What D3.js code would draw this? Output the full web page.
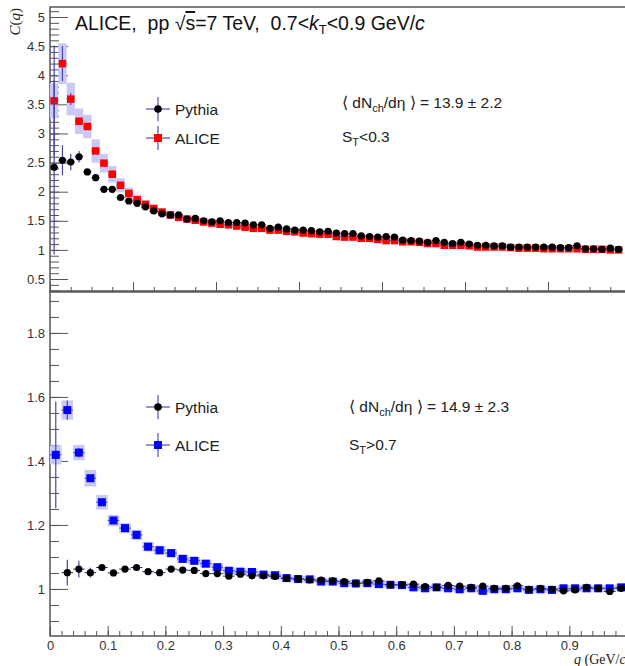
<!DOCTYPE html>
<html>
<head>
<meta charset="utf-8">
<script src="https://cdn.jsdelivr.net/npm/d3@7"></script>
<style>
  html, body { margin: 0; padding: 0; background: #fff; }
  svg { display: block; }
  .tick text { font-family: "Liberation Sans", Arial, sans-serif; font-size: 13px; fill: #333; }
  .tick line, .domain { stroke: #555; }
</style>
</head>
<body>
<svg id="chart" width="625" height="666"></svg>
<script>
// ---------------- DATA ----------------
// Top panel (S_T < 0.3): bin centres in q (GeV/c)
const qTop = [0.01,0.03,0.05,0.07,0.09,0.11,0.13,0.15,0.17,0.19,0.21,0.23,0.25,0.27,0.29,0.31,0.33,0.35,0.37,0.39,
  0.41,0.43,0.45,0.47,0.49,0.51,0.53,0.55,0.57,0.59,0.61,0.63,0.65,0.67,0.69,0.71,0.73,0.75,0.77,0.79,
  0.81,0.83,0.85,0.87,0.89,0.91,0.93,0.95,0.97,0.99,1.01,1.03,1.05,1.07,1.09,1.11,1.13,1.15,1.17,1.19,
  1.21,1.23,1.25,1.27,1.29,1.31,1.33,1.35,1.37];
const pythiaTop = [2.42,2.54,2.51,2.60,2.34,2.24,2.04,2.04,1.90,1.84,1.80,1.74,1.67,1.62,1.60,1.60,1.53,1.54,1.50,1.48,
  1.50,1.47,1.47,1.46,1.43,1.43,1.37,1.39,1.36,1.34,1.34,1.33,1.31,1.32,1.29,1.28,1.28,1.24,1.23,1.22,
  1.23,1.22,1.17,1.16,1.15,1.13,1.16,1.13,1.11,1.13,1.10,1.08,1.08,1.07,1.07,1.05,1.05,1.05,1.05,1.05,
  1.05,1.04,1.04,1.07,1.02,1.02,1.01,1.03,1.01];
const pythiaTopErr = [1.50,0.26,0.14,0.10,0.04,0.03,0.02,0.02,0.02,0.02,0.02,0.02,0.02,0.02,0.02,0.02,0.02,0.02,0.02,0.02,
  0.02,0.02,0.02,0.02,0.02,0.02,0.02,0.02,0.02,0.02,0.02,0.02,0.02,0.02,0.02,0.02,0.02,0.02,0.02,0.02,
  0.02,0.02,0.02,0.02,0.02,0.02,0.02,0.02,0.02,0.02,0.02,0.02,0.02,0.02,0.02,0.02,0.02,0.02,0.02,0.02,
  0.02,0.02,0.02,0.02,0.02,0.02,0.02,0.02,0.02];
const aliceTop = [3.56,4.20,3.59,3.21,3.12,2.70,2.49,2.30,2.11,1.97,1.86,1.78,1.71,1.65,1.60,1.56,1.53,1.51,1.48,1.46,
  1.44,1.43,1.41,1.39,1.37,1.37,1.34,1.34,1.32,1.31,1.29,1.28,1.27,1.27,1.23,1.22,1.22,1.20,1.20,1.18,
  1.16,1.16,1.14,1.14,1.13,1.11,1.11,1.08,1.08,1.08,1.07,1.05,1.05,1.05,1.05,1.04,1.03,1.03,1.03,1.02,
  1.02,1.02,1.02,1.02,1.01,1.01,1.01,1.00,1.00];
const aliceTopErr = [0.95,0.30,0.10,0.05,0.05,0.03,0.03,0.02,0.02,0.02,0.02,0.02,0.02,0.02,0.02,0.02,0.02,0.02,0.02,0.02,
  0.02,0.02,0.02,0.02,0.02,0.02,0.02,0.02,0.02,0.02,0.02,0.02,0.02,0.02,0.02,0.02,0.02,0.02,0.02,0.02,
  0.02,0.02,0.02,0.02,0.02,0.02,0.02,0.02,0.02,0.02,0.02,0.02,0.02,0.02,0.02,0.02,0.02,0.02,0.02,0.02,
  0.02,0.02,0.02,0.02,0.02,0.02,0.02,0.02,0.02];
const aliceTopSys = [0.30,0.35,0.28,0.22,0.20,0.20,0.16,0.14,0.12,0.10,0.09,0.08,0.07,0.06,0.06,0.05,0.05,0.045,0.045,0.04,
  0.04,0.04,0.04,0.04,0.04,0.04,0.04,0.04,0.04,0.04,0.035,0.035,0.035,0.035,0.035,0.035,0.035,0.035,0.035,0.035,
  0.035,0.035,0.035,0.035,0.035,0.03,0.03,0.03,0.03,0.03,0.03,0.03,0.03,0.03,0.03,0.03,0.03,0.03,0.03,0.03,
  0.03,0.03,0.03,0.03,0.03,0.03,0.03,0.03,0.03];

// Bottom panel (S_T > 0.7)
const qBot = [0.01,0.03,0.05,0.07,0.09,0.11,0.13,0.15,0.17,0.19,0.21,0.23,0.25,0.27,0.29,0.31,0.33,0.35,0.37,0.39,
  0.41,0.43,0.45,0.47,0.49,0.51,0.53,0.55,0.57,0.59,0.61,0.63,0.65,0.67,0.69,0.71,0.73,0.75,0.77,0.79,
  0.81,0.83,0.85,0.87,0.89,0.91,0.93,0.95,0.97,0.99];
const pythiaBot = [null,1.051,1.062,1.051,1.067,1.050,1.062,1.067,1.054,1.051,1.062,1.059,1.058,1.048,1.048,1.040,1.046,1.041,1.041,1.039,
  1.033,1.031,1.028,1.028,1.025,1.023,1.018,1.021,1.025,1.013,1.013,1.015,1.007,1.005,1.011,1.009,1.005,1.009,1.002,1.002,
  1.010,0.999,1.002,0.999,0.994,0.997,1.005,1.002,0.992,1.002];
const pythiaBotErr = [0,0.040,0.026,0.015,0.006,0.005,0.005,0.005,0.005,0.005,0.005,0.005,0.005,0.005,0.005,0.005,0.005,0.005,0.005,0.005,
  0.005,0.005,0.005,0.005,0.005,0.005,0.005,0.005,0.005,0.005,0.005,0.005,0.005,0.005,0.005,0.005,0.005,0.005,0.005,0.005,
  0.005,0.005,0.005,0.005,0.005,0.005,0.005,0.005,0.005,0.005];
const aliceBot = [1.419,1.559,1.426,1.346,1.271,1.214,1.190,1.169,1.132,1.121,1.112,1.094,1.088,1.079,1.068,1.057,1.054,1.053,1.045,1.043,
  1.034,1.031,1.030,1.023,1.023,1.018,1.017,1.018,1.015,1.013,1.012,1.005,1.002,1.005,1.002,0.999,1.002,0.994,0.999,0.999,
  1.002,0.997,0.999,0.997,1.002,1.002,1.002,1.002,1.002,1.005];
const aliceBotErr = [0.167,0.030,0.015,0.010,0.006,0.005,0.005,0.005,0.005,0.005,0.005,0.005,0.005,0.005,0.005,0.005,0.005,0.005,0.005,0.005,
  0.005,0.005,0.005,0.005,0.005,0.005,0.005,0.005,0.005,0.005,0.005,0.005,0.005,0.005,0.005,0.005,0.005,0.005,0.005,0.005,
  0.005,0.005,0.005,0.005,0.005,0.005,0.005,0.005,0.005,0.005];
const aliceBotSys = [0.030,0.030,0.024,0.026,0.023,0.018,0.016,0.016,0.015,0.014,0.013,0.013,0.012,0.012,0.012,0.011,0.011,0.011,0.011,0.011,
  0.010,0.010,0.010,0.010,0.010,0.010,0.010,0.010,0.010,0.010,0.010,0.010,0.010,0.010,0.010,0.010,0.010,0.010,0.010,0.010,
  0.010,0.010,0.010,0.010,0.010,0.010,0.010,0.010,0.010,0.010];
const binHalf = 0.01;

// Axis ticks
const yTopMajor = [0.5,1,1.5,2,2.5,3,3.5,4,4.5,5];
const yBotMajor = [1,1.2,1.4,1.6,1.8];
const xBotMajor = [0,0.1,0.2,0.3,0.4,0.5,0.6,0.7,0.8,0.9];
const xTopMajor = [0,0.2,0.4,0.6,0.8,1.0,1.2,1.4];

// ---------------- CHART ----------------
const svg = d3.select("#chart");
const L = 50;
const xTop = d3.scaleLinear([0, 1.4], [L, 631]);
const xBot = d3.scaleLinear([0, 1.0], [L, 627]);
const yTop = d3.scaleLinear([0.277, 5.172], [292, 7]);
const yBot = d3.scaleLinear([0.853, 1.931], [636, 291]);

const errColor = "#4646a6";
const sysColor = "#c9c9f6";

function range(a, b, s) { return d3.range(a, b + s / 2, s).map(v => +v.toFixed(4)); }

function drawPanel(id, x, y, q, pyth, pythErr, alice, aliceErr, aliceSys, aliceColor, yMajor, yMinorStep, xMajor, xMinorStep, showXLabels, yFmt) {
  const g = svg.append("g");
  const [x0, x1] = x.range();
  const [yb, yt] = y.range();
  const clipId = "clip" + id;
  svg.append("clipPath").attr("id", clipId).append("rect")
    .attr("x", x0).attr("y", yt).attr("width", x1 - x0).attr("height", yb - yt);

  // axes
  const yMinor = range(Math.ceil(y.domain()[0] / yMinorStep) * yMinorStep, y.domain()[1], yMinorStep)
    .filter(v => v >= y.domain()[0] && v <= y.domain()[1]);
  g.append("g").attr("transform", `translate(${x0},0)`)
    .call(d3.axisLeft(y).tickValues(yMinor).tickSizeInner(-9).tickSizeOuter(0).tickFormat(""))
    .call(s => s.select(".domain").remove());
  g.append("g").attr("transform", `translate(${x0},0)`)
    .call(d3.axisLeft(y).tickValues(yMajor).tickSizeInner(-18).tickSizeOuter(0).tickPadding(5).tickFormat(yFmt))
    .call(s => s.select(".domain").remove());

  const xMinor = range(0, x.domain()[1], xMinorStep);
  g.append("g").attr("transform", `translate(0,${yb})`)
    .call(d3.axisBottom(x).tickValues(xMinor).tickSizeInner(-5).tickSizeOuter(0).tickFormat(""))
    .call(s => s.select(".domain").remove());
  g.append("g").attr("transform", `translate(0,${yb})`)
    .call(d3.axisBottom(x).tickValues(xMajor).tickSizeInner(-10).tickSizeOuter(0).tickPadding(5)
      .tickFormat(showXLabels ? (d => d === 0 ? "0" : d3.format(".1f")(d)) : ""))
    .call(s => s.select(".domain").remove());

  // frame
  g.append("path").attr("fill", "none").attr("stroke", "#555").attr("stroke-width", 1.5)
    .attr("d", `M${x1},${yt}H${x0}V${yb}H${x1}`);

  const data = q.map((qq, i) => ({ q: qq, p: pyth[i], pe: pythErr[i], a: alice[i], ae: aliceErr[i], as: aliceSys[i] }));
  const dg = g.append("g").attr("clip-path", `url(#${clipId})`);

  // systematic boxes
  dg.selectAll("rect.sys").data(data).join("rect").attr("class", "sys")
    .attr("x", d => x(d.q - binHalf)).attr("width", d => x(d.q + binHalf) - x(d.q - binHalf))
    .attr("y", d => y(d.a + d.as)).attr("height", d => y(d.a - d.as) - y(d.a + d.as))
    .attr("fill", sysColor);

  // error bars (ALICE)
  dg.selectAll("line.aex").data(data).join("line").attr("class", "aex")
    .attr("x1", d => x(d.q - binHalf)).attr("x2", d => x(d.q + binHalf))
    .attr("y1", d => y(d.a)).attr("y2", d => y(d.a))
    .attr("stroke", errColor).attr("stroke-width", 1);
  dg.selectAll("line.aey").data(data).join("line").attr("class", "aey")
    .attr("x1", d => x(d.q)).attr("x2", d => x(d.q))
    .attr("y1", d => y(d.a - d.ae)).attr("y2", d => y(d.a + d.ae))
    .attr("stroke", errColor).attr("stroke-width", 1.2);
  // ALICE markers
  const ms = id === "top" ? 7.5 : 8;
  dg.selectAll("rect.am").data(data).join("rect").attr("class", "am")
    .attr("x", d => x(d.q) - ms / 2).attr("y", d => y(d.a) - ms / 2)
    .attr("width", ms).attr("height", ms).attr("fill", aliceColor);

  // Pythia
  const pd = data.filter(d => d.p != null);
  dg.selectAll("line.pex").data(pd).join("line").attr("class", "pex")
    .attr("x1", d => x(d.q - binHalf)).attr("x2", d => x(d.q + binHalf))
    .attr("y1", d => y(d.p)).attr("y2", d => y(d.p))
    .attr("stroke", "#2a2a6a").attr("stroke-width", 1);
  dg.selectAll("line.pey").data(pd).join("line").attr("class", "pey")
    .attr("x1", d => x(d.q)).attr("x2", d => x(d.q))
    .attr("y1", d => y(d.p - d.pe)).attr("y2", d => y(d.p + d.pe))
    .attr("stroke", errColor).attr("stroke-width", 1.2);
  dg.selectAll("circle.pm").data(pd).join("circle").attr("class", "pm")
    .attr("cx", d => x(d.q)).attr("cy", d => y(d.p)).attr("r", 3.6).attr("fill", "#000");
}

drawPanel("top", xTop, yTop, qTop, pythiaTop, pythiaTopErr, aliceTop, aliceTopErr, aliceTopSys, "#ff0000",
  yTopMajor, 0.1, xTopMajor, 0.05, false, d => d3.format("")(d));
drawPanel("bot", xBot, yBot, qBot, pythiaBot, pythiaBotErr, aliceBot, aliceBotErr, aliceBotSys, "#0000ff",
  yBotMajor, 0.05, xBotMajor, 0.02, true, d => d === 1 ? "1" : d3.format(".1f")(d));

// ---------------- LEGENDS & TEXT ----------------
function legendEntry(cx, cy, type, color, label) {
  const g = svg.append("g");
  g.append("line").attr("x1", cx - 12).attr("x2", cx + 12).attr("y1", cy).attr("y2", cy)
    .attr("stroke", "#5050b0").attr("stroke-width", 1.2);
  g.append("line").attr("x1", cx).attr("x2", cx).attr("y1", cy - 12).attr("y2", cy + 12)
    .attr("stroke", "#5050b0").attr("stroke-width", 1.2);
  if (type === "circle") g.append("circle").attr("cx", cx).attr("cy", cy).attr("r", 3.8).attr("fill", color);
  else g.append("rect").attr("x", cx - 4).attr("y", cy - 4).attr("width", 8).attr("height", 8).attr("fill", color);
  g.append("text").attr("x", cx + 17).attr("y", cy + 5.5)
    .attr("font-family", "Liberation Sans, Arial, sans-serif").attr("font-size", 15.5).attr("fill", "#222")
    .text(label);
}
legendEntry(158, 109, "circle", "#000", "Pythia");
legendEntry(158, 138, "rect", "#ff0000", "ALICE");
legendEntry(158, 407, "circle", "#000", "Pythia");
legendEntry(158, 445, "rect", "#0000ff", "ALICE");

// title
const title = svg.append("text").attr("x", 75).attr("y", 30)
  .attr("font-family", "Liberation Sans, Arial, sans-serif").attr("font-size", 19.5).attr("fill", "#111")
  .attr("xml:space", "preserve");
title.append("tspan").text("ALICE,  pp ");
title.append("tspan").text("√");
title.append("tspan").attr("text-decoration", "overline").text("s");
title.append("tspan").text("=7 TeV,  0.7<");
title.append("tspan").attr("font-style", "italic").text("k");
title.append("tspan").attr("font-size", 13).attr("dy", 4).text("T");
title.append("tspan").attr("dy", -4).text("<0.9 GeV/");
title.append("tspan").attr("font-style", "italic").text("c");

function multText(x, y, mult) {
  const t = svg.append("text").attr("x", x).attr("y", y)
    .attr("font-family", "Liberation Sans, Arial, sans-serif").attr("font-size", 15.5).attr("fill", "#222")
    .attr("xml:space", "preserve");
  t.append("tspan").text("\u27E8 dN");
  t.append("tspan").attr("font-size", 11).attr("dy", 4).text("ch");
  t.append("tspan").attr("dy", -4).text("/d\u03B7 \u27E9 = " + mult);
}
function stText(x, y, s) {
  const t = svg.append("text").attr("x", x).attr("y", y)
    .attr("font-family", "Liberation Sans, Arial, sans-serif").attr("font-size", 15.5).attr("fill", "#222");
  t.append("tspan").text("S");
  t.append("tspan").attr("font-size", 11).attr("dy", 4).text("T");
  t.append("tspan").attr("dy", -4).text(s);
}
multText(342, 108, "13.9 \u00B1 2.2");
stText(342, 142, "<0.3");
multText(349, 412, "14.9 \u00B1 2.3");
stText(349, 450, ">0.7");

// axis titles
const yt = svg.append("text").attr("transform", "translate(20,8) rotate(-90)")
  .attr("text-anchor", "end").attr("font-family", "Liberation Serif, Times New Roman, serif")
  .attr("font-size", 15).attr("fill", "#222");
yt.append("tspan").attr("font-style", "italic").text("C");
yt.append("tspan").text("(");
yt.append("tspan").attr("font-style", "italic").text("q");
yt.append("tspan").text(")");

const xt = svg.append("text").attr("x", 574).attr("y", 664)
  .attr("font-family", "Liberation Serif, Times New Roman, serif").attr("font-size", 14).attr("fill", "#222")
  .attr("xml:space", "preserve");
xt.append("tspan").attr("font-style", "italic").text("q");
xt.append("tspan").text(" (GeV/");
xt.append("tspan").attr("font-style", "italic").text("c");
xt.append("tspan").text(")");
</script>
</body>
</html>
